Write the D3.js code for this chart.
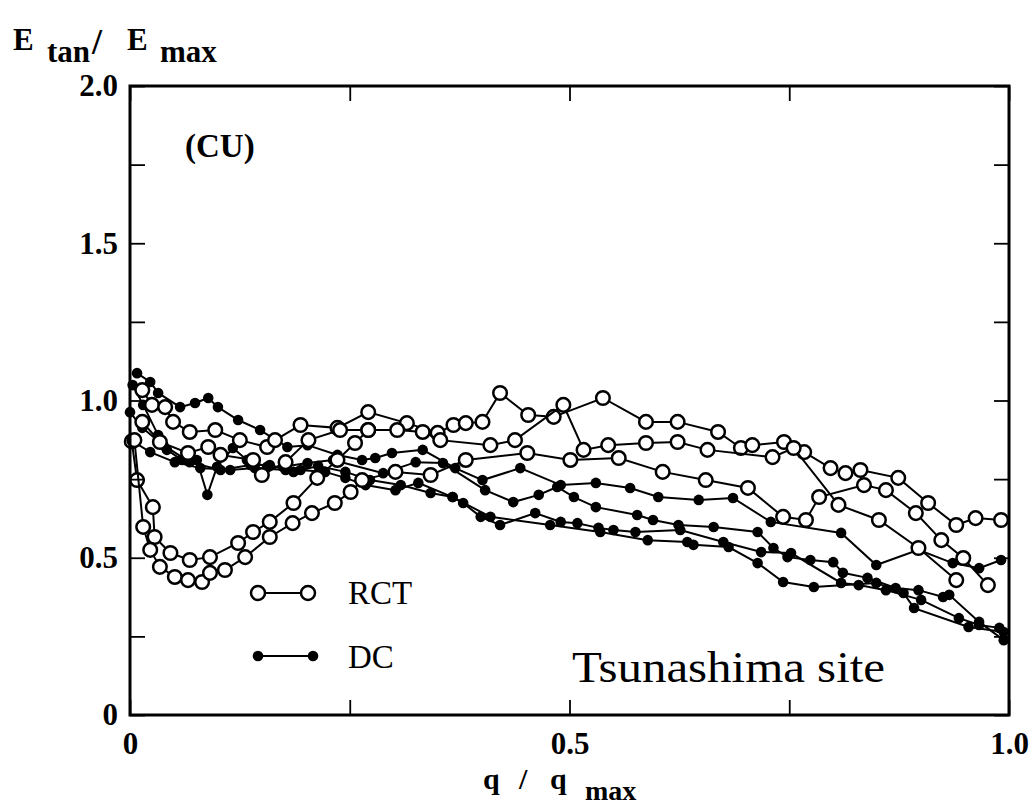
<!DOCTYPE html>
<html>
<head>
<meta charset="utf-8">
<script src="https://cdn.jsdelivr.net/npm/d3@7"></script>
<style>
  body { margin: 0; background: #fff; }
</style>
</head>
<body>
<div id="chart"></div>
<script>
// RCT series (open circles), [q/qmax, Etan/Emax]
var rct1 = [[.014,1.033],[.025,.986],[.040,.979],[.049,.932],[.068,.900],[.097,.906],[.125,.874],[.156,.852],[.165,.874],[.194,.922],[.236,.913],[.271,.963],[.315,.928],[.350,.897],[.368,.922],[.382,.928],[.401,.932],[.421,1.024],[.453,.954],[.482,.948],[.538,1.008],[.587,.932],[.623,.932],[.669,.900],[.695,.849],[.708,.858],[.744,.868],[.767,.836],[.797,.785],[.814,.769],[.831,.779],[.874,.754],[.908,.674],[.940,.604],[.962,.626],[.991,.620]];
var rct2 = [[.002,.87],[.008,.747],[.026,.661],[.028,.566],[.046,.515],[.068,.493],[.091,.502],[.123,.547],[.140,.582],[.159,.614],[.186,.674],[.213,.754],[.236,.811],[.256,.865],[.271,.906]];
var rct3 = [[.005,.874],[.015,.598],[.023,.525],[.034,.471],[.051,.439],[.066,.429],[.082,.423],[.091,.452],[.108,.461],[.131,.502],[.159,.566],[.185,.610],[.207,.642],[.233,.674],[.251,.709],[.264,.747],[.302,.773],[.342,.763],[.382,.811],[.452,.833],[.501,.811],[.556,.817],[.606,.773],[.655,.747],[.703,.722],[.743,.630],[.769,.620],[.784,.693],[.835,.731],[.860,.715],[.894,.642],[.923,.556],[.948,.499],[.976,.413]];
var rct4 = [[.014,.932],[.034,.868],[.066,.833],[.089,.852],[.103,.827],[.140,.811],[.150,.763],[.177,.804],[.203,.874],[.239,.906],[.271,.906],[.304,.906],[.333,.900],[.353,.874],[.410,.858],[.438,.874],[.493,.986],[.516,.843],[.544,.858],[.587,.865],[.623,.868],[.657,.843],[.731,.820],[.755,.849],[.806,.668],[.852,.620],[.897,.531],[.940,.429]];

// DC series (filled dots)
var dc1 = [[.008,1.087],[.023,1.059],[.032,1.024],[.057,.979],[.074,.992],[.089,1.008],[.100,.979],[.123,.938],[.148,.906],[.179,.852],[.202,.858],[.236,.827],[.264,.811],[.279,.817],[.298,.833],[.333,.843],[.370,.785],[.401,.747],[.444,.785],[.490,.731],[.530,.738],[.569,.722],[.601,.693],[.647,.684],[.686,.690],[.729,.614],[.809,.579],[.849,.477],[.897,.525],[.936,.483],[.966,.467],[.991,.493]];
var dc2 = [[.003,1.049],[.015,.986],[.032,.890],[.042,.843],[.059,.811],[.076,.811],[.088,.700],[.099,.789],[.117,.849],[.133,.811],[.156,.789],[.174,.789],[.202,.801],[.231,.811],[.288,.769],[.325,.804],[.356,.801],[.404,.715],[.436,.677],[.465,.700],[.486,.725],[.505,.693],[.530,.661],[.577,.636],[.595,.620],[.624,.604],[.664,.598],[.714,.582],[.732,.531],[.748,.502],[.774,.493],[.800,.486],[.811,.452],[.839,.436],[.871,.404],[.897,.397],[.925,.375],[.932,.382],[.966,.296],[.994,.238]];
var dc3 = [[.000,.963],[.014,.913],[.038,.858],[.068,.804],[.103,.779],[.137,.795],[.159,.795],[.186,.773],[.214,.792],[.245,.773],[.273,.747],[.308,.731],[.342,.706],[.367,.693],[.379,.674],[.399,.630],[.421,.604],[.461,.642],[.490,.614],[.509,.610],[.533,.595],[.550,.588],[.575,.582],[.626,.588],[.675,.550],[.718,.518],[.752,.515],[.809,.420],[.829,.413],[.860,.397],[.900,.366],[.943,.308],[.966,.286],[.989,.277]];
var dc4 = [[.001,.874],[.023,.836],[.051,.804],[.080,.785],[.114,.779],[.142,.785],[.177,.779],[.194,.779],[.222,.773],[.245,.754],[.268,.731],[.302,.715],[.328,.738],[.367,.693],[.410,.630],[.478,.604],[.535,.582],[.589,.556],[.634,.550],[.641,.541],[.681,.534],[.714,.483],[.743,.423],[.778,.407],[.849,.420],[.880,.388],[.892,.340],[.954,.280],[.994,.264]];

var yTicks = [0, 0.25, 0.5, 0.75, 1.0, 1.25, 1.5, 1.75, 2.0];
var yLabels = {0: "0", 0.5: "0.5", 1: "1.0", 1.5: "1.5", 2: "2.0"};
var xTicks = [0, 0.25, 0.5, 0.75, 1.0];
var xLabels = {0: "0", 0.5: "0.5", 1: "1.0"};

var serif = '"Liberation Serif", "Times New Roman", Times, serif';
var width = 1031, height = 807;
var plotLeft = 130, plotRight = 1009, plotTop = 86, plotBottom = 715;

var svg = d3.select("#chart").append("svg")
    .attr("width", width)
    .attr("height", height)
    .style("font-family", serif);

var x = d3.scaleLinear().domain([0, 1]).range([plotLeft, plotRight]);
var y = d3.scaleLinear().domain([0, 2]).range([plotBottom, plotTop]);

var line = d3.line()
    .x(function(d) { return x(d[0]); })
    .y(function(d) { return y(d[1]); });

// DC first, RCT on top
[dc1, dc2, dc3, dc4].forEach(function(s) {
    svg.append("path").attr("d", line(s))
        .attr("fill", "none").attr("stroke", "#000").attr("stroke-width", 2);
    svg.append("g").selectAll("circle").data(s).enter().append("circle")
        .attr("cx", function(d) { return x(d[0]); })
        .attr("cy", function(d) { return y(d[1]); })
        .attr("r", 5.3).attr("fill", "#000");
});

[rct1, rct2, rct3, rct4].forEach(function(s) {
    svg.append("path").attr("d", line(s))
        .attr("fill", "none").attr("stroke", "#000").attr("stroke-width", 2);
    svg.append("g").selectAll("circle").data(s).enter().append("circle")
        .attr("cx", function(d) { return x(d[0]); })
        .attr("cy", function(d) { return y(d[1]); })
        .attr("r", 6.8).attr("fill", "#fff").attr("stroke", "#000").attr("stroke-width", 2.5);
});

// axes with inward ticks
svg.append("g").attr("transform", "translate(" + plotLeft + ",0)")
    .call(d3.axisLeft(y).tickValues(yTicks).tickSize(-15).tickPadding(12)
        .tickFormat(function(d) { return yLabels[d] || ""; }));
svg.append("g").attr("transform", "translate(0," + plotBottom + ")")
    .call(d3.axisBottom(x).tickValues(xTicks).tickSize(-15).tickPadding(17)
        .tickFormat(function(d) { return xLabels[d] || ""; }));
svg.append("g").attr("transform", "translate(" + plotRight + ",0)")
    .call(d3.axisRight(y).tickValues(yTicks).tickSize(-15).tickFormat(""));
svg.append("g").attr("transform", "translate(0," + plotTop + ")")
    .call(d3.axisTop(x).tickValues(xTicks).tickSize(-15).tickFormat(""));

svg.selectAll(".domain").remove();
svg.selectAll(".tick line").attr("stroke", "#000").attr("stroke-width", 1.8);
svg.selectAll(".tick text")
    .attr("font-family", serif)
    .style("font-family", serif)
    .style("font-size", "31px").style("font-weight", "bold");

svg.append("rect")
    .attr("x", plotLeft).attr("y", plotTop)
    .attr("width", plotRight - plotLeft).attr("height", plotBottom - plotTop)
    .attr("fill", "none").attr("stroke", "#000").attr("stroke-width", 3);

// y title
var yt = svg.append("text").style("font-family", serif).style("font-size", "31px").style("font-weight", "bold");
yt.append("tspan").attr("x", 13).attr("y", 50).text("E");
yt.append("tspan").attr("x", 47).attr("y", 62).text("tan");
yt.append("tspan").attr("x", 92).attr("y", 54).style("font-size", "36px").text("/");
yt.append("tspan").attr("x", 127).attr("y", 50).text("E");
yt.append("tspan").attr("x", 160).attr("y", 62).text("max");

// x title
var xt = svg.append("text").style("font-family", serif).style("font-size", "30px").style("font-weight", "bold");
xt.append("tspan").attr("x", 483).attr("y", 789).text("q");
xt.append("tspan").attr("x", 519).attr("y", 789).text("/");
xt.append("tspan").attr("x", 550).attr("y", 789).text("q");
xt.append("tspan").attr("x", 585).attr("y", 800).style("font-size", "28px").text("max");

svg.append("text").attr("x", 185).attr("y", 157)
    .style("font-family", serif)
    .style("font-size", "33px").style("font-weight", "bold").text("(CU)");

svg.append("text").attr("x", 572).attr("y", 682)
    .style("font-family", serif)
    .style("font-size", "45px")
    .attr("textLength", 313).attr("lengthAdjust", "spacingAndGlyphs")
    .text("Tsunashima site");

// legend
var legend = svg.append("g").style("font-family", serif);
legend.append("line").attr("x1", 258).attr("y1", 593).attr("x2", 308).attr("y2", 593)
    .attr("stroke", "#000").attr("stroke-width", 2);
legend.append("circle").attr("cx", 258).attr("cy", 593).attr("r", 7)
    .attr("fill", "#fff").attr("stroke", "#000").attr("stroke-width", 2.5);
legend.append("circle").attr("cx", 308).attr("cy", 593).attr("r", 7)
    .attr("fill", "#fff").attr("stroke", "#000").attr("stroke-width", 2.5);
legend.append("text").attr("x", 348).attr("y", 604).style("font-size", "33px").text("RCT");
legend.append("line").attr("x1", 258).attr("y1", 656).attr("x2", 313).attr("y2", 656)
    .attr("stroke", "#000").attr("stroke-width", 2);
legend.append("circle").attr("cx", 258).attr("cy", 656).attr("r", 5.3).attr("fill", "#000");
legend.append("circle").attr("cx", 313).attr("cy", 656).attr("r", 5.3).attr("fill", "#000");
legend.append("text").attr("x", 348).attr("y", 668).style("font-size", "33px").text("DC");
</script>
</body>
</html>
